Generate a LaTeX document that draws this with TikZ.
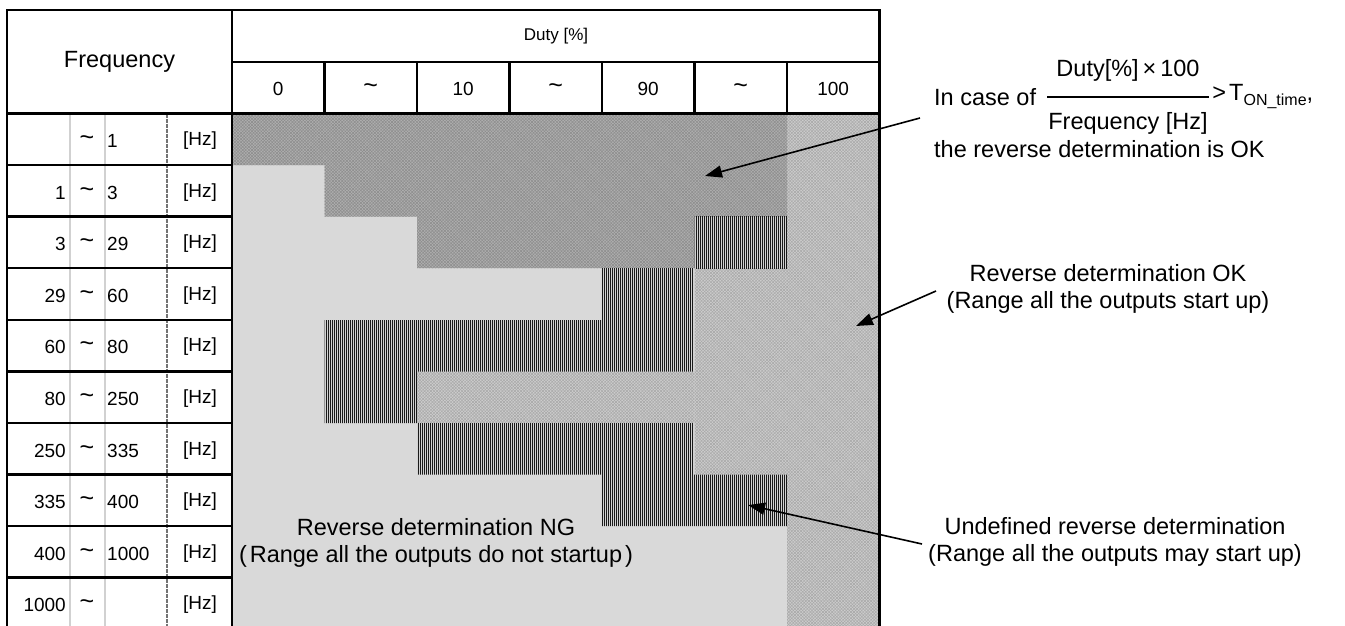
\documentclass[tikz,border=0pt]{standalone}
\usepackage{fontspec}
\setmainfont{Liberation Sans}
\usetikzlibrary{patterns.meta,arrows.meta}
\definecolor{nggray}{HTML}{D9D9D9}
\definecolor{okgray}{HTML}{CDCDCD}
\definecolor{okline}{HTML}{A8A8A8}
\definecolor{fmgray}{HTML}{AFAFAF}
\definecolor{fmline}{HTML}{8C8C8C}
\definecolor{udgray}{HTML}{D2D2D2}
\tikzset{
  small/.style={font=\fontsize{19}{22}\selectfont, inner sep=0pt},
  wave/.style={font=\fontsize{25}{28}\selectfont, inner sep=0pt},
  big/.style={font=\fontsize{23.5}{27}\selectfont, inner sep=0pt, align=center},
  frame/.style={line width=2.5pt},
  rule/.style={line width=2.2pt},
  soft/.style={line width=1.4pt, color=black!18},
  dashsep/.style={line width=1.4pt, color=black!55, dash pattern=on 4pt off 1pt},
  okarea/.style={fill=okgray,
    postaction={pattern={Lines[angle=45,distance=2.2pt,line width=.5pt]}, pattern color=okline},
    postaction={pattern={Lines[angle=-45,distance=2.2pt,line width=.5pt]}, pattern color=okline}},
  fmarea/.style={fill=fmgray,
    postaction={pattern={Lines[angle=45,distance=2.2pt,line width=.5pt]}, pattern color=fmline},
    postaction={pattern={Lines[angle=-45,distance=2.2pt,line width=.5pt]}, pattern color=fmline}},
  udarea/.style={fill=udgray,
    postaction={pattern={Lines[angle=90,distance=2pt,line width=.95pt]}, pattern color=black!90}},
  pointer/.style={line width=1.6pt, -{Triangle[length=17pt,width=12pt]}}
}
\begin{document}
\begin{tikzpicture}[x=1pt,y=-1pt]
	\useasboundingbox (0,0) rectangle (1345,626);
	%areas
	\fill[nggray] (232,113.5) rectangle (879.5,626);
	\path[okarea] (787,113.5) rectangle (879.5,626);
	\path[okarea] (694.5,268) rectangle (787,474.5);
	\path[okarea] (417,371.5) rectangle (694.5,423);
	\path[fmarea] (232,113.5) -- (787,113.5) -- (787,216.5) -- (694.5,216.5)
		-- (694.5,268) -- (417,268) -- (417,216.5) -- (324.5,216.5)
		-- (324.5,165) -- (232,165) -- cycle;
	\path[udarea] (694.5,216.5) rectangle (787,268);
	\path[udarea] (602,268) -- (694.5,268) -- (694.5,371.5) -- (417,371.5)
		-- (417,423) -- (324.5,423) -- (324.5,320) -- (602,320) -- cycle;
	\path[udarea] (417,423) -- (694.5,423) -- (694.5,474.5) -- (787,474.5)
		-- (787,526) -- (602,526) -- (602,474.5) -- (417,474.5) -- cycle;
	%frequency column
	\draw[soft] (70,113.5) -- (70,626);
	\draw[soft] (105,113.5) -- (105,626);
	\draw[dashsep] (167,113.5) -- (167,626);
	\draw[rule] (7,165) -- (232,165);
	\draw[rule] (7,216.5) -- (232,216.5);
	\draw[rule] (7,268) -- (232,268);
	\draw[rule] (7,320) -- (232,320);
	\draw[rule] (7,371.5) -- (232,371.5);
	\draw[rule] (7,423) -- (232,423);
	\draw[rule] (7,474.5) -- (232,474.5);
	\draw[rule] (7,526) -- (232,526);
	\draw[rule] (7,577.5) -- (232,577.5);
	%header
	\draw[rule] (324.5,62) -- (324.5,113.5);
	\draw[rule] (417,62) -- (417,113.5);
	\draw[rule] (509.5,62) -- (509.5,113.5);
	\draw[rule] (602,62) -- (602,113.5);
	\draw[rule] (694.5,62) -- (694.5,113.5);
	\draw[rule] (787,62) -- (787,113.5);
	%frame
	\draw[frame] (7,626) -- (7,10) -- (879.5,10) -- (879.5,626);
	\draw[frame] (232,10) -- (232,626);
	\draw[frame] (232,62) -- (879.5,62);
	\draw[frame] (7,113.5) -- (879.5,113.5);
	%header labels
	\node[big] (freq) at (119.5,62) {Frequency};
	\node[small,font=\fontsize{17}{20}\selectfont] (duty) at (556,36) {Duty [\%]};
	\node[small] (d0) at (278.2,89) {0};
	\node[wave] (t1) at (370.7,89) {\textasciitilde};
	\node[small] (d10) at (463.2,89) {10};
	\node[wave] (t2) at (555.7,89) {\textasciitilde};
	\node[small] (d90) at (648.2,89) {90};
	\node[wave] (t3) at (740.7,89) {\textasciitilde};
	\node[small] (d100) at (833.2,89) {100};
	%row labels
	\node[wave] (ti0) at (87,141) {\textasciitilde}; \node[small,anchor=west] (hi0) at (107,141) {1}; \node[small] (hz0) at (200,141) {[Hz]};
	\node[small,anchor=east] (lo1) at (66,192.5) {1}; \node[wave] (ti1) at (87,192.5) {\textasciitilde}; \node[small,anchor=west] (hi1) at (107,192.5) {3}; \node[small] (hz1) at (200,192.5) {[Hz]};
	\node[small,anchor=east] (lo2) at (66,244) {3}; \node[wave] (ti2) at (87,244) {\textasciitilde}; \node[small,anchor=west] (hi2) at (107,244) {29}; \node[small] (hz2) at (200,244) {[Hz]};
	\node[small,anchor=east] (lo3) at (66,295.5) {29}; \node[wave] (ti3) at (87,295.5) {\textasciitilde}; \node[small,anchor=west] (hi3) at (107,295.5) {60}; \node[small] (hz3) at (200,295.5) {[Hz]};
	\node[small,anchor=east] (lo4) at (66,347) {60}; \node[wave] (ti4) at (87,347) {\textasciitilde}; \node[small,anchor=west] (hi4) at (107,347) {80}; \node[small] (hz4) at (200,347) {[Hz]};
	\node[small,anchor=east] (lo5) at (66,399) {80}; \node[wave] (ti5) at (87,399) {\textasciitilde}; \node[small,anchor=west] (hi5) at (107,399) {250}; \node[small] (hz5) at (200,399) {[Hz]};
	\node[small,anchor=east] (lo6) at (66,450.5) {250}; \node[wave] (ti6) at (87,450.5) {\textasciitilde}; \node[small,anchor=west] (hi6) at (107,450.5) {335}; \node[small] (hz6) at (200,450.5) {[Hz]};
	\node[small,anchor=east] (lo7) at (66,502) {335}; \node[wave] (ti7) at (87,502) {\textasciitilde}; \node[small,anchor=west] (hi7) at (107,502) {400}; \node[small] (hz7) at (200,502) {[Hz]};
	\node[small,anchor=east] (lo8) at (66,553.5) {400}; \node[wave] (ti8) at (87,553.5) {\textasciitilde}; \node[small,anchor=west] (hi8) at (107,553.5) {1000}; \node[small] (hz8) at (200,553.5) {[Hz]};
	\node[small,anchor=east] (lo9) at (66,605) {1000}; \node[wave] (ti9) at (87,605) {\textasciitilde}; \node[small] (hz9) at (200,605) {[Hz]};
	%NG
	\node[big] (ngtext) at (436,543) {Reverse determination NG\\(\hspace{3pt}Range all the outputs do not startup\hspace{3pt})};
	%formula
	\node[big,anchor=west] (incase) at (934,97) {In case of};
	\node[big] (num) at (1128,70) {Duty[\%]\,×\,100};
	\node[big] (den) at (1128,123) {Frequency [Hz]};
	\coordinate (barL) at (1047,97);
	\coordinate (barR) at (1209,97);
	\draw[line width=1.6pt] (barL) -- (barR);
	\node[big,anchor=west] (ton) at (1209,97) {\makebox[20pt]{\textgreater}T{\fontsize{16}{18}\selectfont\raisebox{-5pt}{ON\_time}},};
	\node[big,anchor=west] (revok) at (934,149) {the reverse determination is OK};
	%OK
	\node[big] (oktext) at (1108,289) {Reverse determination OK\\(Range all the outputs start up)};
	%undefined
	\node[big] (udtext) at (1115,542) {Undefined reverse determination\\(Range all the outputs may start up)};
	%arrows
	\coordinate (fmstart) at (920,118);
	\coordinate (fmtip) at (705,176);
	\coordinate (okstart) at (936,291);
	\coordinate (oktip) at (856,326);
	\coordinate (udstart) at (922,544);
	\coordinate (udtip) at (748,505);
	\draw[pointer] (fmstart) -- (fmtip);
	\draw[pointer] (okstart) -- (oktip);
	\draw[pointer] (udstart) -- (udtip);
\end{tikzpicture}
\end{document}
